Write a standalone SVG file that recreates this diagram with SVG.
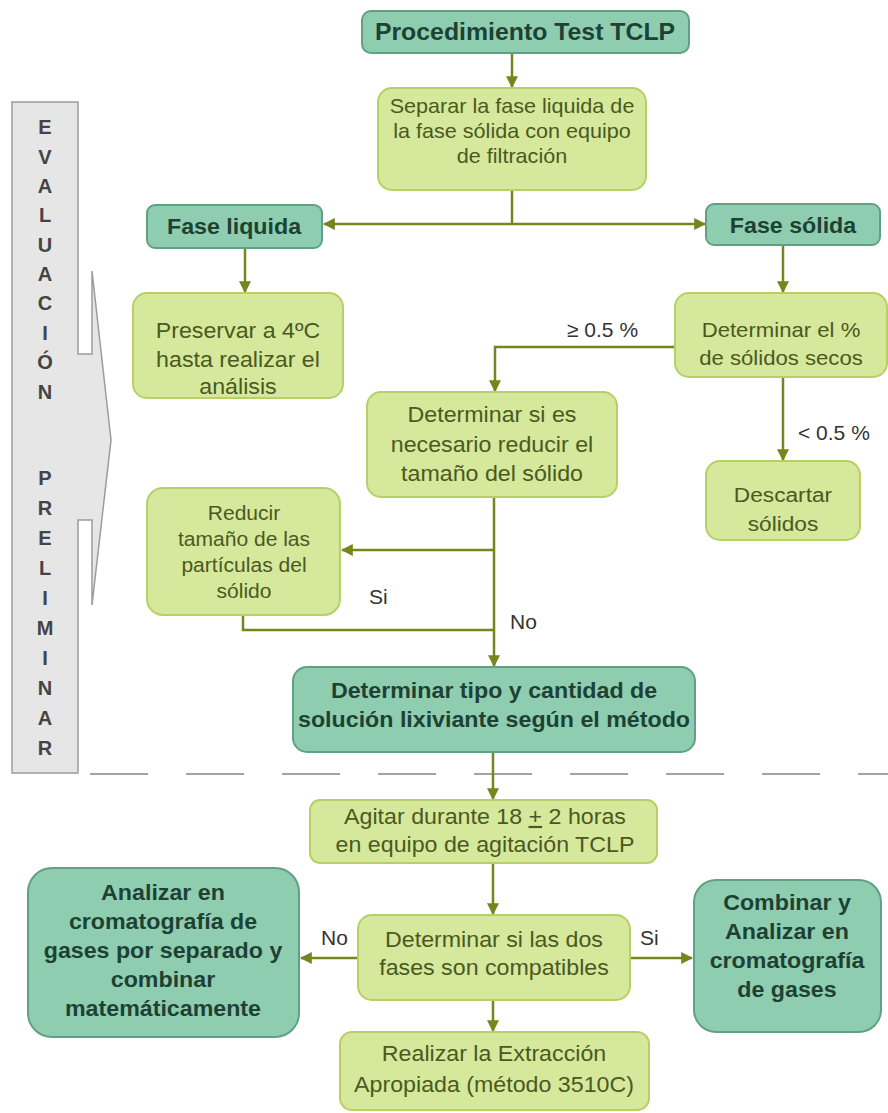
<svg xmlns="http://www.w3.org/2000/svg" width="888" height="1113" viewBox="0 0 888 1113">
<defs>
<style>
.lg{fill:#d6e89c;stroke:#b7d066;stroke-width:2}
.tl{fill:#8fcdb1;stroke:#60a085;stroke-width:2}
.t{font-family:"Liberation Sans",Arial,sans-serif;text-anchor:middle}
.tg{fill:#4a5a1e;font-size:21px}
.tb{fill:#1d4234;font-weight:bold;font-size:21.5px}
.lab{font-family:"Liberation Sans",Arial,sans-serif;font-size:21px;fill:#333}
.c{stroke:#76851d;stroke-width:2.5;fill:none}
.ca{stroke:#76851d;stroke-width:2.5;fill:none;marker-end:url(#ah)}
.vl{font-family:"Liberation Sans",Arial,sans-serif;font-weight:bold;font-size:20px;fill:#444444;text-anchor:middle}
</style>
<marker id="ah" viewBox="0 0 10 10" refX="9" refY="5" markerWidth="12" markerHeight="12" markerUnits="userSpaceOnUse" orient="auto"><path d="M0,0 L10,5 L0,10 z" fill="#76851d"/></marker>
</defs>
<rect width="888" height="1113" fill="#ffffff"/>

<g id="evaluacion">
<path d="M12,102 H78 V354 H92 V271 L111,440 L92,605 V520 H78 V773 H12 Z" fill="#e6e6e6" stroke="#9c9c9c" stroke-width="1.5"/>
<text class="vl"><tspan x="45" y="134">E</tspan><tspan x="45" y="164">V</tspan><tspan x="45" y="193">A</tspan><tspan x="45" y="222">L</tspan><tspan x="45" y="252">U</tspan><tspan x="45" y="281">A</tspan><tspan x="45" y="310">C</tspan><tspan x="45" y="340">I</tspan><tspan x="45" y="369">Ó</tspan><tspan x="45" y="399">N</tspan><tspan x="45" y="485">P</tspan><tspan x="45" y="515">R</tspan><tspan x="45" y="545">E</tspan><tspan x="45" y="575">L</tspan><tspan x="45" y="605">I</tspan><tspan x="45" y="635">M</tspan><tspan x="45" y="665">I</tspan><tspan x="45" y="695">N</tspan><tspan x="45" y="725">A</tspan><tspan x="45" y="755">R</tspan></text>
</g>
<line x1="90" y1="774" x2="888" y2="774" stroke="#a3a3a3" stroke-width="2" stroke-dasharray="58 38"/>

<g id="connectors">
<line class="ca" x1="512" y1="53" x2="512" y2="87"/>
<line class="c" x1="512" y1="190" x2="512" y2="224"/>
<line class="ca" x1="512" y1="224" x2="324" y2="224"/>
<line class="ca" x1="512" y1="224" x2="705" y2="224"/>
<line class="ca" x1="245" y1="248" x2="245" y2="292"/>
<line class="ca" x1="783" y1="245" x2="783" y2="292"/>
<polyline class="ca" points="675,347 495,347 495,391"/>
<line class="ca" x1="783" y1="377" x2="783" y2="460"/>
<line class="ca" x1="494" y1="497" x2="494" y2="666"/>
<line class="ca" x1="494" y1="550" x2="342" y2="550"/>
<polyline class="c" points="243,615 243,630 494,630"/>
<line class="ca" x1="493" y1="752" x2="493" y2="799"/>
<line class="ca" x1="493" y1="863" x2="493" y2="914"/>
<line class="ca" x1="358" y1="958" x2="301" y2="958"/>
<line class="ca" x1="630" y1="958" x2="692" y2="958"/>
<line class="ca" x1="493" y1="1000" x2="493" y2="1031"/>
<text class="lab" x="567" y="337">≥ 0.5 %</text>
<text class="lab" x="798" y="440">&lt; 0.5 %</text>
<text class="lab" x="369" y="604">Si</text>
<text class="lab" x="510" y="629">No</text>
<text class="lab" x="321" y="945">No</text>
<text class="lab" x="640" y="945">Si</text>
</g>

<g id="n-procedimiento">
<rect class="tl" x="362" y="11" width="327" height="42" rx="9"/>
<text class="t tb" style="font-size:23px" transform="translate(525 0) scale(1.08 1)"><tspan x="0" y="40">Procedimiento Test TCLP</tspan></text>
</g>
<g id="n-separar">
<rect class="lg" x="378" y="88" width="268" height="102" rx="14"/>
<text class="t tg" style="font-size:20px" transform="translate(512 0) scale(1.08 1)"><tspan x="0" y="113">Separar la fase liquida de</tspan><tspan x="0" y="138">la fase sólida con equipo</tspan><tspan x="0" y="163">de filtración</tspan></text>
</g>
<g id="n-fase-liquida">
<rect class="tl" x="147" y="205" width="175" height="43" rx="8"/>
<text class="t tb" transform="translate(234 0) scale(1.08 1)"><tspan x="0" y="234">Fase liquida</tspan></text>
</g>
<g id="n-fase-solida">
<rect class="tl" x="706" y="204" width="174" height="41" rx="8"/>
<text class="t tb" transform="translate(793 0) scale(1.08 1)"><tspan x="0" y="233">Fase sólida</tspan></text>
</g>
<g id="n-preservar">
<rect class="lg" x="133" y="293" width="210" height="105" rx="14"/>
<text class="t tg" style="font-size:21.5px" transform="translate(238 0) scale(1.08 1)"><tspan x="0" y="338">Preservar a 4ºC</tspan><tspan x="0" y="367">hasta realizar el</tspan><tspan x="0" y="394">análisis</tspan></text>
</g>
<g id="n-determinar-solidos">
<rect class="lg" x="675" y="293" width="212" height="84" rx="14"/>
<text class="t tg" style="font-size:20.5px" transform="translate(781 0) scale(1.08 1)"><tspan x="0" y="337">Determinar el %</tspan><tspan x="0" y="365">de sólidos secos</tspan></text>
</g>
<g id="n-determinar-reducir">
<rect class="lg" x="367" y="392" width="250" height="105" rx="14"/>
<text class="t tg" style="font-size:21.5px" transform="translate(492 0) scale(1.08 1)"><tspan x="0" y="422">Determinar si es</tspan><tspan x="0" y="452">necesario reducir el</tspan><tspan x="0" y="481">tamaño del sólido</tspan></text>
</g>
<g id="n-descartar">
<rect class="lg" x="706" y="461" width="154" height="79" rx="14"/>
<text class="t tg" style="font-size:21px" transform="translate(783 0) scale(1.08 1)"><tspan x="0" y="502">Descartar</tspan><tspan x="0" y="531">sólidos</tspan></text>
</g>
<g id="n-reducir">
<rect class="lg" x="147" y="488" width="193" height="127" rx="16"/>
<text class="t tg" style="font-size:19.5px" transform="translate(244 0) scale(1.08 1)"><tspan x="0" y="520">Reducir</tspan><tspan x="0" y="546">tamaño de las</tspan><tspan x="0" y="572">partículas del</tspan><tspan x="0" y="598">sólido</tspan></text>
</g>
<g id="n-determinar-tipo">
<rect class="tl" x="293" y="667" width="402" height="85" rx="14"/>
<text class="t tb" transform="translate(494 0) scale(1.08 1)"><tspan x="0" y="698">Determinar tipo y cantidad de</tspan><tspan x="0" y="727">solución lixiviante según el método</tspan></text>
</g>
<g id="n-agitar">
<rect class="lg" x="310" y="800" width="347" height="63" rx="10"/>
<text class="t tg" style="font-size:21.5px" transform="translate(485 0) scale(1.08 1)"><tspan x="0" y="824">Agitar durante 18 <tspan text-decoration="underline">+</tspan> 2 horas</tspan><tspan x="0" y="852">en equipo de agitación TCLP</tspan></text>
</g>
<g id="n-compatibles">
<rect class="lg" x="358" y="915" width="272" height="85" rx="14"/>
<text class="t tg" style="font-size:21.5px" transform="translate(494 0) scale(1.08 1)"><tspan x="0" y="947">Determinar si las dos</tspan><tspan x="0" y="975">fases son compatibles</tspan></text>
</g>
<g id="n-analizar-separado">
<rect class="tl" x="28" y="868" width="271" height="169" rx="24"/>
<text class="t tb" transform="translate(163 0) scale(1.08 1)"><tspan x="0" y="900">Analizar en</tspan><tspan x="0" y="929">cromatografía de</tspan><tspan x="0" y="958">gases por separado y</tspan><tspan x="0" y="987">combinar</tspan><tspan x="0" y="1016">matemáticamente</tspan></text>
</g>
<g id="n-combinar">
<rect class="tl" x="694" y="880" width="187" height="152" rx="22"/>
<text class="t tb" transform="translate(787 0) scale(1.08 1)"><tspan x="0" y="910">Combinar  y</tspan><tspan x="0" y="939">Analizar en</tspan><tspan x="0" y="968">cromatografía</tspan><tspan x="0" y="997">de gases</tspan></text>
</g>
<g id="n-realizar">
<rect class="lg" x="340" y="1032" width="309" height="78" rx="12"/>
<text class="t tg" style="font-size:21.5px" transform="translate(494 0) scale(1.08 1)"><tspan x="0" y="1061">Realizar la Extracción</tspan><tspan x="0" y="1092">Apropiada (método 3510C)</tspan></text>
</g>
</svg>
